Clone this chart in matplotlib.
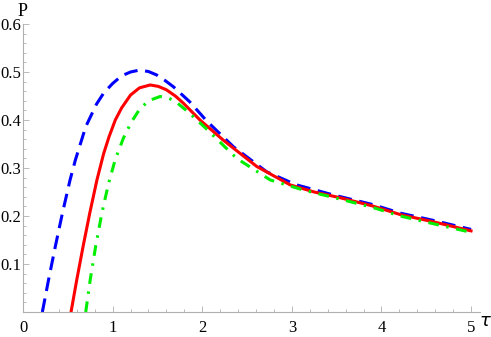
import matplotlib
matplotlib.use("Agg")
import matplotlib.pyplot as plt
from matplotlib.ticker import MultipleLocator, FixedLocator

# values
tau_blue = [0.216, 0.285, 0.36, 0.44, 0.525, 0.585, 0.70, 0.82, 0.90, 1.0, 1.10, 1.20, 1.30,
            1.40, 1.49, 1.58, 1.68, 1.86, 2.05, 2.35, 2.72, 3.05, 3.46, 3.9, 4.21, 4.6, 5.0]
p_blue = [0.0, 0.067, 0.136, 0.206, 0.275, 0.317, 0.386, 0.433, 0.456, 0.476, 0.492, 0.500, 0.504,
          0.501, 0.494, 0.483, 0.469, 0.438, 0.398, 0.344, 0.292, 0.265, 0.244, 0.224, 0.206, 0.190, 0.172]

tau_red = [0.536, 0.60, 0.67, 0.745, 0.825, 0.90, 0.96, 1.03, 1.10, 1.20, 1.30, 1.42, 1.51,
           1.60, 1.70, 1.79, 1.975, 2.235, 2.61, 2.98, 3.25, 3.54, 3.9, 4.21, 4.6, 5.0]
p_red = [0.0, 0.067, 0.136, 0.206, 0.275, 0.330, 0.365, 0.400, 0.425, 0.452, 0.467, 0.473, 0.470,
         0.463, 0.450, 0.435, 0.400, 0.358, 0.303, 0.265, 0.250, 0.238, 0.221, 0.203, 0.187, 0.169]

tau_green = [0.70, 0.75, 0.81, 0.88, 0.955, 1.03, 1.12, 1.21, 1.30, 1.40, 1.53, 1.62, 1.70,
             1.86, 2.05, 2.385, 2.76, 3.13, 3.50, 3.9, 4.21, 4.6, 5.0]
p_green = [0.0, 0.067, 0.136, 0.206, 0.268, 0.318, 0.362, 0.396, 0.422, 0.440, 0.449, 0.446, 0.439,
           0.414, 0.381, 0.320, 0.275, 0.254, 0.237, 0.218, 0.200, 0.183, 0.166]

x_ticks = [0, 1, 2, 3, 4, 5]
y_ticks = [0.1, 0.2, 0.3, 0.4, 0.5, 0.6]

plt.rcParams['font.family'] = ['Liberation Serif', 'DejaVu Serif']

fig = plt.figure(figsize=(4.91, 3.37), dpi=100)
ax = fig.add_axes([23 / 491, 25 / 337, 457 / 491, 288 / 337])

ax.plot(tau_blue, p_blue, color='#0000ff', lw=2.2, dashes=(4.5, 2.5))
ax.plot(tau_red, p_red, color='#ff0000', lw=2.2)
ax.plot(tau_green, p_green, color='#00ee00', lw=2.2, dashes=(3.5, 2.5, 0.8, 2.5))

ax.set_xlim(0, 5.1)
ax.set_ylim(0, 0.6)

for side in ['top', 'right']:
    ax.spines[side].set_visible(False)
for side in ['left', 'bottom']:
    ax.spines[side].set_color('#b0b0b0')
    ax.spines[side].set_linewidth(0.8)

ax.xaxis.set_major_locator(FixedLocator(x_ticks))
ax.yaxis.set_major_locator(FixedLocator(y_ticks))
ax.xaxis.set_minor_locator(MultipleLocator(0.2))
ax.yaxis.set_minor_locator(MultipleLocator(0.02))
ax.set_xticklabels([str(t) for t in x_ticks])
ax.set_yticklabels([f"{t:.1f}" for t in y_ticks])
ax.tick_params(which='both', direction='in', color='#b0b0b0', labelsize=12, width=0.6)
ax.tick_params(which='major', length=4)
ax.tick_params(which='minor', length=2)
ax.tick_params(axis='x', pad=6)
ax.tick_params(axis='y', pad=1)

ax.text(0.0, 0.625, 'P', fontsize=13, ha='center', va='center', clip_on=False)
ax.text(5.16, -0.02, r'$\tau$', fontsize=13, ha='center', va='center', clip_on=False)

fig.savefig('out.png', dpi=100)
